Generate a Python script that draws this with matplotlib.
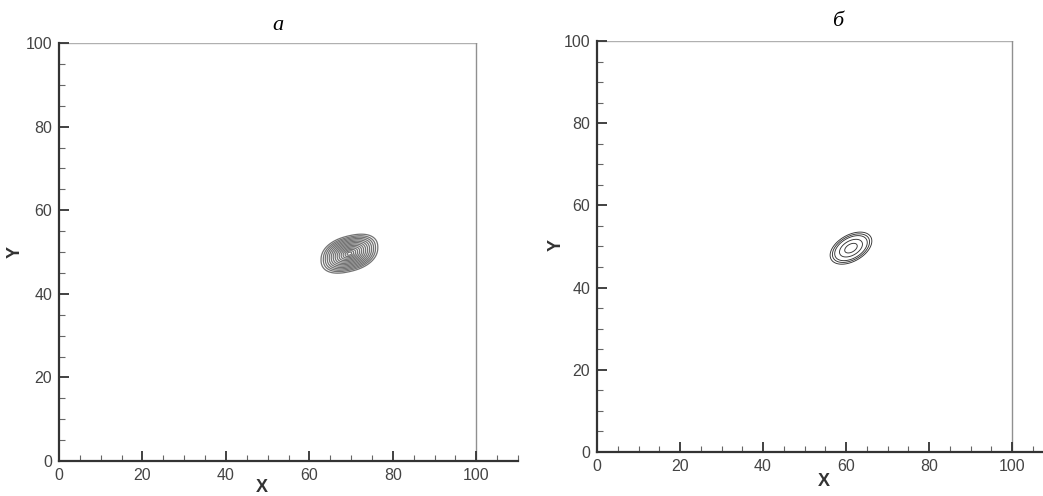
import numpy as np
import matplotlib.pyplot as plt
from matplotlib.ticker import MultipleLocator

# panel titles
titles = ["a", "б"]

# axis extents
x_major = [0, 20, 40, 60, 80, 100]
y_major = [0, 20, 40, 60, 80, 100]

# panel a blob: rounded, slightly sheared patch (centre, half sizes, shear, shape exponent)
a_centre = [69.6, 49.6]
a_half = [6.8, 4.3]
a_shear = 0.22
a_power = 2.3
a_levels = [0.08, 0.15, 0.22, 0.29, 0.36, 0.43, 0.50, 0.57, 0.64, 0.71,
            0.78, 0.85, 0.92, 1.0]

# panel b blob: tilted ellipse (centre, semi axes, angle in degrees)
b_centre = [61.2, 49.6]
b_half = [5.5, 3.2]
b_angle = 30.0
b_levels = [0.3, 0.55, 0.78, 0.89, 1.0]

W, H = 1043, 496
fig = plt.figure(figsize=(W / 100, H / 100), dpi=100)
plt.rcParams['font.family'] = ['Liberation Sans', 'DejaVu Sans']


def px(x0, x1, y0, y1):
    # pixel box -> figure fraction
    return [x0 / W, 1 - y1 / H, (x1 - x0) / W, (y1 - y0) / H]


def style_axes(ax, xmax):
    ax.set_xlim(0, xmax)
    ax.set_ylim(0, 100)
    ax.set_xticks(x_major)
    ax.set_yticks(y_major)
    ax.xaxis.set_minor_locator(MultipleLocator(5))
    ax.yaxis.set_minor_locator(MultipleLocator(5))
    ax.tick_params(which='major', direction='in', length=7, width=1.3,
                   color='#333333', labelsize=11.5, labelcolor='#444444', pad=5)
    ax.tick_params(which='minor', direction='in', length=4, width=0.8,
                   color='#666666')
    for s in ['top', 'right']:
        ax.spines[s].set_visible(False)
    for s in ['left', 'bottom']:
        ax.spines[s].set_linewidth(1.6)
        ax.spines[s].set_color('#333333')
    ax.spines['left'].set_bounds(0, 100)
    # frame of the domain
    ax.plot([0, 100], [100, 100], color='#b0b0b0', lw=1.0, zorder=0)
    ax.plot([100, 100], [0, 100], color='#909090', lw=1.0, zorder=0)
    ax.set_facecolor('white')


# ---- panel a ----
ax1 = fig.add_axes(px(59, 518, 43, 461))
style_axes(ax1, 110)
gx, gy = np.meshgrid(np.linspace(50, 90, 400), np.linspace(35, 65, 300))
u = gx - a_centre[0]
v = gy - a_centre[1] - a_shear * u
ra = (np.abs(u / a_half[0]) ** a_power + np.abs(v / a_half[1]) ** a_power) ** (1 / a_power)
ax1.contour(gx, gy, ra, levels=a_levels, colors='#737373', linewidths=0.9)

# ---- panel b ----
ax2 = fig.add_axes(px(597, 1043, 41, 452))
style_axes(ax2, (1043 - 597) / 4.15)
t = np.deg2rad(b_angle)
du = gx - b_centre[0]
dv = gy - b_centre[1]
p = du * np.cos(t) + dv * np.sin(t)
q = -du * np.sin(t) + dv * np.cos(t)
rb = np.sqrt((p / b_half[0]) ** 2 + (q / b_half[1]) ** 2)
ax2.contour(gx, gy, rb, levels=b_levels, colors='#333333', linewidths=0.65)

# titles and axis labels
fig.text(278 / W, 1 - 25 / H, titles[0], ha='center', va='center',
         family='Liberation Serif', style='italic', fontsize=16)
fig.text(838 / W, 1 - 22 / H, titles[1], ha='center', va='center',
         family='Liberation Serif', style='italic', fontsize=16)
fig.text(262 / W, 1 - 487 / H, 'X', ha='center', va='center',
         fontsize=13, fontweight='bold', color='#333333')
fig.text(15 / W, 1 - 252 / H, 'Y', ha='center', va='center', rotation=90,
         fontsize=13, fontweight='bold', color='#333333')
fig.text(824 / W, 1 - 481 / H, 'X', ha='center', va='center',
         fontsize=13, fontweight='bold', color='#333333')
fig.text(556 / W, 1 - 245 / H, 'Y', ha='center', va='center', rotation=90,
         fontsize=13, fontweight='bold', color='#333333')

fig.savefig('out.png', dpi=100)
